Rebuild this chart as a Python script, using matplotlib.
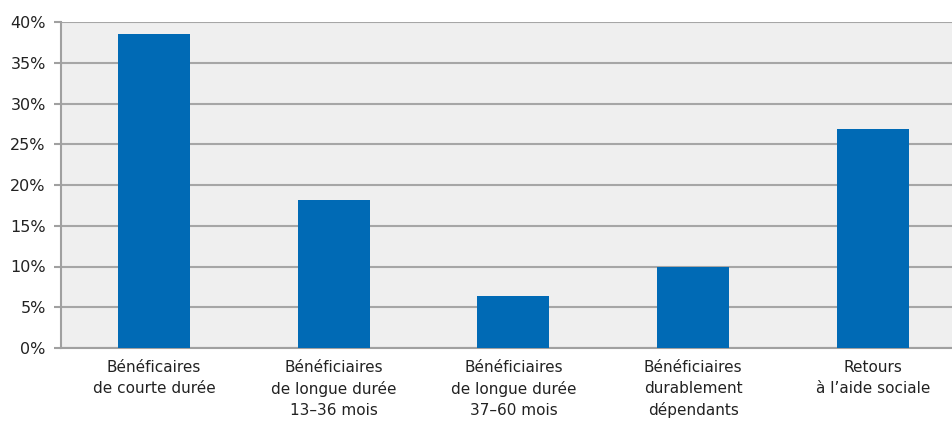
import matplotlib.pyplot as plt
import numpy as np

plt.rcParams['font.family'] = ['DejaVu Sans']

categories = ['Bénéficaires\nde courte durée',
              'Bénéficiaires\nde longue durée\n13–36 mois',
              'Bénéficiaires\nde longue durée\n37–60 mois',
              'Bénéficiaires\ndurablement\ndépendants',
              'Retours\nà l\u2019aide sociale']
values = [38.5, 18.2, 6.4, 9.9, 26.9]
yticks = [0, 5, 10, 15, 20, 25, 30, 35, 40]

fig = plt.figure(figsize=(9.52, 4.23), dpi=100)
ax = fig.add_axes([61 / 952, 1 - 348 / 423, 1 - 61 / 952, 326 / 423])
ax.set_facecolor('#efefef')

x = np.arange(len(categories))
ax.bar(x, values, width=0.40, color='#006ab5', zorder=3)

ax.set_ylim(0, 40)
ax.set_xlim(-0.517, 4.44)
ax.set_yticks(yticks)
ax.set_yticklabels([f'{t}%' for t in yticks], fontsize=11.5, color='#222222')
ax.set_xticks(x)
ax.set_xticklabels(categories, fontsize=11, color='#222222', linespacing=1.45)
ax.tick_params(axis='x', length=0, pad=9)
ax.tick_params(axis='y', length=5, width=1.5, color='#a0a0a0', pad=6)

ax.grid(axis='y', color='#a6a6a6', linewidth=1.5, zorder=0)
ax.set_axisbelow(True)
for side in ['top', 'right']:
    ax.spines[side].set_visible(False)
ax.spines['left'].set_color('#a0a0a0')
ax.spines['left'].set_linewidth(1.5)
ax.spines['bottom'].set_color('#a0a0a0')
ax.spines['bottom'].set_linewidth(1.5)

fig.savefig('out.png', dpi=100)
